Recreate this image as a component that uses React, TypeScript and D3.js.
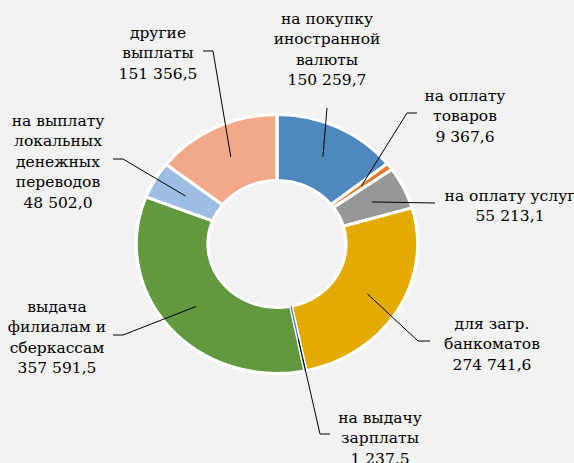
import React from 'react';
import * as d3 from 'd3';

const categories = [
  'на покупку иностранной валюты',
  'на оплату товаров',
  'на оплату услуг',
  'для загр. банкоматов',
  'на выдачу зарплаты',
  'выдача филиалам и сберкассам',
  'на выплату локальных денежных переводов',
  'другие выплаты',
];
const labelLines = [
  ['на покупку', 'иностранной', 'валюты'],
  ['на оплату', 'товаров'],
  ['на оплату услуг'],
  ['для загр.', 'банкоматов'],
  ['на выдачу', 'зарплаты'],
  ['выдача', 'филиалам и', 'сберкассам'],
  ['на выплату', 'локальных', 'денежных', 'переводов'],
  ['другие', 'выплаты'],
];
const values = [150259.7, 9367.6, 55213.1, 274741.6, 1237.5, 357591.5, 48502.0, 151356.5];
const colors = ['#4f87bf', '#e07a30', '#979797', '#e3aa00', '#4472c4', '#62993e', '#9dbde3', '#f1a98a'];

// where each label sits (centre x, middle of first line) and the label end of its leader
const labelPos = [
  { x: 327, y: 18, leader: [[327, 108]] },
  { x: 465, y: 95, leader: [[417, 113], [407, 113]] },
  { x: 510, y: 195, leader: [[435, 203]] },
  { x: 492, y: 323, leader: [[430, 341], [418, 341]] },
  { x: 380, y: 417, leader: [[330, 434], [320, 434]] },
  { x: 57, y: 306, leader: [[113, 335], [123, 335]] },
  { x: 58, y: 120, leader: [[113, 159], [123, 159]] },
  { x: 158, y: 32, leader: [[203, 51], [213, 51]] },
];

const W = 574;
const H = 463;
const cx = 277;
const cy = 244;
const sx = 1.087; // chart was stretched horizontally
const outerR = 129.5;
const innerR = 63.5;
const lineStep = 20.5;
const FONT = '"DejaVu Serif", "Liberation Serif", serif';

const ru = d3.formatLocale({ decimal: ',', thousands: ' ', grouping: [3], currency: ['', ''] });
const fmt = ru.format(',.1f');

export default function App() {
  const pie = d3.pie<number>().sort(null).value((d) => d);
  const arcs = pie(values);
  const arc = d3.arc<d3.PieArcDatum<number>>().innerRadius(innerR).outerRadius(outerR);

  const pointAt = (a: number, r: number) => [cx + sx * r * Math.sin(a), cy - r * Math.cos(a)];

  return (
    <svg width={W} height={H} style={{ position: 'absolute', left: 0, top: 0, background: '#f2f2f2' }}>
      <rect width={W} height={H} fill="#f2f2f2" />
      <g transform={`translate(${cx},${cy}) scale(${sx},1)`}>
        {arcs.map((d, i) => (
          <path key={categories[i]} d={arc(d) || ''} fill={colors[i]} stroke="#fff" strokeWidth={3} />
        ))}
        {arcs
          .filter((d) => (d.endAngle - d.startAngle) * outerR < 4)
          .map((d) => {
            const a = (d.startAngle + d.endAngle) / 2;
            return (
              <line
                key={'thin' + d.index}
                x1={innerR * Math.sin(a)}
                y1={-innerR * Math.cos(a)}
                x2={outerR * Math.sin(a)}
                y2={-outerR * Math.cos(a)}
                stroke={colors[d.index]}
                strokeWidth={1.1}
              />
            );
          })}
      </g>
      {arcs.map((d, i) => {
        const a = (d.startAngle + d.endAngle) / 2;
        const end = pointAt(a, 97);
        const pts = [...labelPos[i].leader, end];
        return (
          <polyline
            key={'leader' + i}
            points={pts.map((p) => p.join(',')).join(' ')}
            fill="none"
            stroke="#000"
            strokeWidth={1}
          />
        );
      })}
      {labelLines.map((lines, i) => {
        const all = [...lines, fmt(values[i])];
        return (
          <text key={'lab' + i} textAnchor="middle" fill="#000" fontFamily={FONT} fontSize={15.5}>
            {all.map((t, j) => (
              <tspan key={j} x={labelPos[i].x} y={labelPos[i].y + 5.5 + j * lineStep}>
                {t}
              </tspan>
            ))}
          </text>
        );
      })}
    </svg>
  );
}
